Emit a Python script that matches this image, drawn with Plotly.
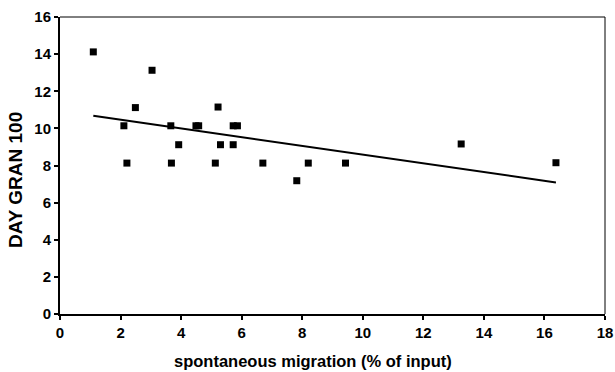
import numpy as np
import plotly.graph_objects as go

migration = [1.10, 2.11, 2.21, 2.49, 3.04, 3.66, 3.68, 3.92, 4.49, 4.58, 5.13, 5.22,
             5.30, 5.72, 5.72, 5.86, 6.70, 7.82, 8.20, 9.43, 13.25, 16.38]
day_gran = [14.12, 10.14, 8.13, 11.12, 13.13, 10.14, 8.13, 9.12, 10.14, 10.14, 8.13, 11.15,
            9.12, 10.14, 9.12, 10.14, 8.13, 7.18, 8.13, 8.13, 9.16, 8.15]
x_ticks = [0, 2, 4, 6, 8, 10, 12, 14, 16, 18]
y_ticks = [0, 2, 4, 6, 8, 10, 12, 14, 16]
x_title = "spontaneous migration (% of input)"
y_title = "DAY GRAN 100"

slope, intercept = np.polyfit(migration, day_gran, 1)
line_x = [min(migration), max(migration)]
line_y = [intercept + slope * v for v in line_x]

fig = go.Figure()
fig.add_trace(go.Scatter(x=line_x, y=line_y, mode="lines",
                         line=dict(color="black", width=2), hoverinfo="skip"))
fig.add_trace(go.Scatter(x=migration, y=day_gran, mode="markers",
                         marker=dict(symbol="square", size=7, color="black")))

fam = "Liberation Sans, Arial, sans-serif"
fig.update_layout(
    width=615, height=372,
    margin=dict(l=60, r=10, t=17, b=58, autoexpand=False),
    paper_bgcolor="white", plot_bgcolor="white",
    showlegend=False,
    font=dict(family=fam, color="black"),
    xaxis=dict(range=[0, 18], tickvals=x_ticks, ticktext=[f"<b>{v}</b>" for v in x_ticks],
               ticks="outside", ticklen=4, tickwidth=1.5, tickcolor="black",
               showgrid=False, zeroline=False, automargin=False,
               showline=True, linecolor="black", linewidth=2,
               tickfont=dict(size=15, family=fam, color="black")),
    yaxis=dict(range=[0, 16], tickvals=y_ticks, ticktext=[f"<b>{v}</b>" for v in y_ticks],
               ticks="outside", ticklen=4, tickwidth=1.5, tickcolor="black",
               showgrid=False, zeroline=False, automargin=False,
               showline=True, linecolor="black", linewidth=2,
               tickfont=dict(size=15, family=fam, color="black")),
    annotations=[
        dict(text=f"<b>{x_title}</b>", xref="paper", yref="paper", x=0.465, y=-0.158,
             xanchor="center", yanchor="middle", showarrow=False,
             font=dict(size=16.5, family=fam, color="black")),
        dict(text=f"<b>{y_title}</b>", xref="paper", yref="paper", x=-0.0826, y=0.451,
             xanchor="center", yanchor="middle", showarrow=False, textangle=-90,
             font=dict(size=19, family=fam, color="black")),
    ],
    shapes=[
        dict(type="line", xref="paper", yref="paper", x0=0, x1=1, y0=1, y1=1,
             line=dict(color="black", width=1)),
        dict(type="line", xref="paper", yref="paper", x0=1, x1=1, y0=0, y1=1,
             line=dict(color="black", width=1)),
    ],
)

fig.write_html("out.html", config={"displayModeBar": False},
               post_script="document.body.style.margin='0';document.body.style.overflow='hidden';")
